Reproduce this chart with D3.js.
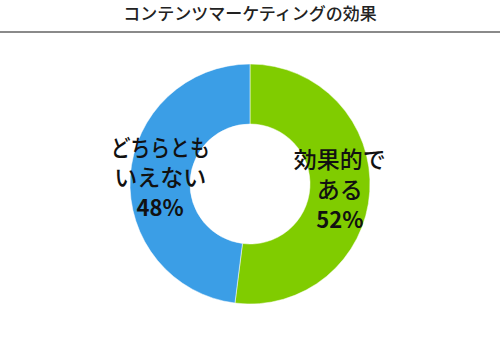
<!DOCTYPE html>
<html><head><meta charset="utf-8">
<script src="https://cdn.jsdelivr.net/npm/d3@7"></script>
<style>body{margin:0;background:#fff}</style>
</head><body>
<script>
const title = "コンテンツマーケティングの効果";
const categories = ["効果的である", "どちらともいえない"];
const labelLines = [["効果的で", "ある"], ["どちらとも", "いえない"]];
const values = [52, 48];
const colors = ["#80cc00", "#3b9ee6"];

const W = 500, H = 344, cx = 250, cy = 184, rOut = 120, rIn = 60;
const svg = d3.select("body").append("svg").attr("width", W).attr("height", H);
const font = "'Noto Sans CJK JP', 'Noto Sans', sans-serif";

svg.append("text").attr("x", W/2).attr("y", 20).attr("text-anchor", "middle")
  .attr("font-family", font).attr("font-size", 17).attr("font-weight", 500).attr("fill", "#222").text(title);
svg.append("line").attr("x1", 0).attr("x2", W).attr("y1", 32).attr("y2", 32)
  .attr("stroke", "#8a8a8a").attr("stroke-width", 2);

const pie = d3.pie().sort(null).value(d => d)(values);
const arc = d3.arc().innerRadius(rIn).outerRadius(rOut);
const labArc = d3.arc().innerRadius(90).outerRadius(90);
const g = svg.append("g").attr("transform", `translate(${cx},${cy})`);
g.selectAll("path").data(pie).join("path").attr("d", arc)
  .attr("fill", (d, i) => colors[i]).attr("stroke", "#fff").attr("stroke-width", 0.5);

pie.forEach((d, i) => {
  const [x, y] = labArc.centroid(d);
  const t = g.append("text").attr("text-anchor", "middle").attr("font-family", font).attr("fill", "#111");
  const lines = labelLines[i];
  lines.forEach((l, j) => {
    const ts = t.append("tspan").attr("x", x).attr("y", y + (j - 1) * 30 + 8)
      .attr("font-size", 23).attr("font-weight", 500).text(l);
    if (l.length === 5) ts.attr("textLength", 99).attr("lengthAdjust", "spacingAndGlyphs");
  });
  t.append("tspan").attr("x", x).attr("y", y + 30 + 8).attr("font-size", 22)
    .attr("font-weight", "bold").text(values[i] + "%");
});
</script>
</body></html>
